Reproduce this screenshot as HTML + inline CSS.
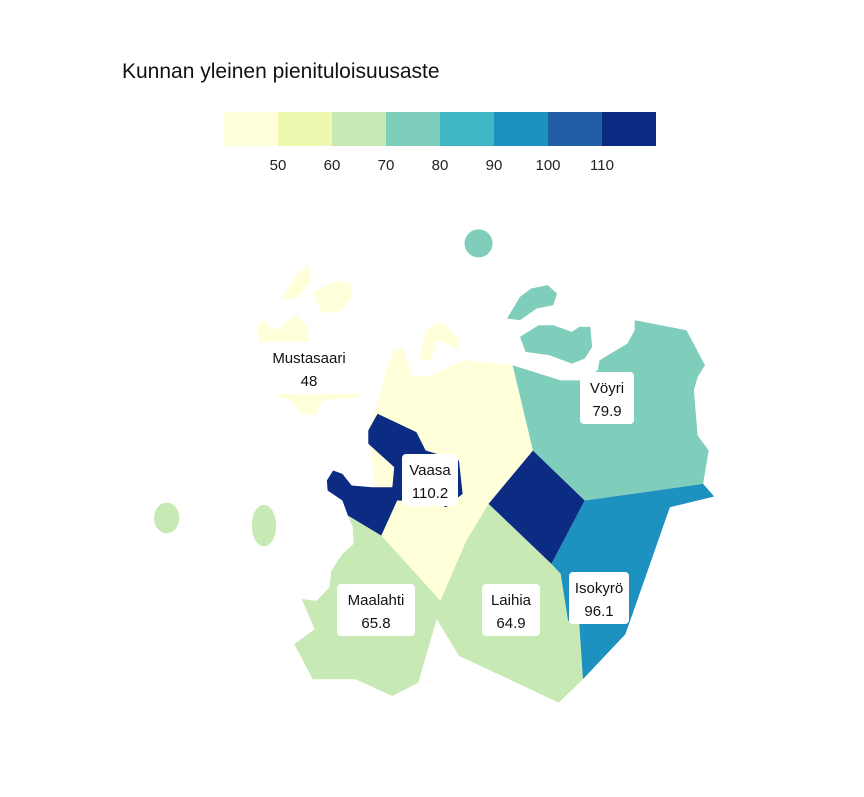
<!DOCTYPE html>
<html><head><meta charset="utf-8"><style>
body{margin:0;background:#fff;font-family:"Liberation Sans",sans-serif}
</style></head><body>
<svg width="864" height="792" viewBox="0 0 864 792" xmlns="http://www.w3.org/2000/svg">
<text x="122" y="78" font-size="21" fill="#111">Kunnan yleinen pienituloisuusaste</text>
<g id="legend"></g>
<g transform="translate(150,220) scale(0.37,0.334)">
 <g fill="#ffffd9">
  <polygon points="620,530 640,440 660,385 685,385 710,470 760,465 850,420 980,435 1035,690 915,850 785,1140 625,945 590,630"/>
  <polygon points="355,235 400,160 430,130 435,185 400,230 370,240"/>
  <polygon points="440,215 500,185 540,185 548,225 520,270 480,280 460,270"/>
  <polygon points="290,320 300,300 340,330 395,285 425,320 430,360 560,450 565,530 465,540 450,585 410,580 380,540 330,520 300,420"/>
  <polygon points="730,400 745,330 780,305 805,320 835,360 830,390 805,370 775,360 760,420 735,420"/>
 </g>
 <g fill="#0c2c84">
  <polygon points="615,580 720,635 745,690 835,720 845,820 800,860 770,845 668,840 625,945 535,885 520,840 480,810 478,780 495,750 520,760 545,795 600,800 655,800 660,740 590,670 590,630"/>
  <polygon points="1035,690 1175,840 1085,1030 915,850"/>
 </g>
 <g fill="#7fcdbb">
  <polygon points="980,435 1110,480 1165,480 1210,450 1215,420 1290,370 1310,330 1310,300 1450,330 1500,435 1480,470 1470,510 1480,645 1510,690 1495,790 1175,840 1035,690"/>
  <polygon points="965,295 1000,230 1030,205 1075,195 1100,220 1090,255 1045,265 1000,300"/>
  <polygon points="1000,350 1050,315 1090,315 1140,335 1160,320 1190,320 1195,380 1175,415 1140,430 1080,405 1015,395"/>
  <ellipse cx="888" cy="70" rx="38" ry="42"/>
 </g>
 <polygon fill="#1d91c0" points="1175,840 1495,790 1525,828 1405,860 1285,1240 1170,1375 1160,1210 1120,1200 1110,1060 1085,1030"/>
 <polygon fill="#c7e9b4" points="915,850 1085,1030 1110,1060 1130,1200 1160,1210 1170,1375 1105,1445 835,1305 775,1195 785,1140 855,960"/>
 <g fill="#c7e9b4">
  <polygon points="535,885 625,945 785,1140 775,1195 725,1385 655,1425 555,1375 440,1375 390,1270 445,1225 410,1135 450,1140 485,1100 490,1050 520,1000 550,970 548,920"/>
  <ellipse cx="45" cy="892" rx="34" ry="46"/>
  <ellipse cx="308" cy="915" rx="33" ry="62"/>
 </g>
</g>
<g id="labels" font-size="15" fill="#111" text-anchor="middle"></g>
<script>
const bins=["","50","60","70","80","90","100","110"];
const colors=["#ffffd9","#edf8b1","#c7e9b4","#7fcdbb","#41b6c4","#1d91c0","#225ea8","#0c2c84"];
const names=["Mustasaari","Vöyri","Vaasa","Maalahti","Laihia","Isokyrö"];
const values=[48,79.9,110.2,65.8,64.9,96.1];
const NS="http://www.w3.org/2000/svg";
const lg=document.getElementById('legend');
colors.forEach((c,i)=>{
 const r=document.createElementNS(NS,'rect');
 r.setAttribute('x',224+i*54);r.setAttribute('y',112);r.setAttribute('width',54);r.setAttribute('height',34);r.setAttribute('fill',c);
 
 
 lg.appendChild(r);
 if(bins[i]){
  const t=document.createElementNS(NS,'text');
  t.setAttribute('x',224+i*54);t.setAttribute('y',170);t.setAttribute('font-size','15');t.setAttribute('text-anchor','middle');t.setAttribute('fill','#222');
  t.textContent=bins[i];
  
  
  lg.appendChild(t);
 }
});
const pos=[[309,368,100],[607,398,54],[430,480,56],[376,610,78],[511,610,58],[599,598,60]];
const lb=document.getElementById('labels');
names.forEach((n,i)=>{
 const [cx,cy,w]=pos[i];
 const g=document.createElementNS(NS,'g');
 
 
 const r=document.createElementNS(NS,'rect');
 r.setAttribute('x',cx-w/2);r.setAttribute('y',cy-26);r.setAttribute('width',w);r.setAttribute('height',52);r.setAttribute('rx',4);r.setAttribute('fill','#fff');
 g.appendChild(r);
 const t1=document.createElementNS(NS,'text');t1.setAttribute('x',cx);t1.setAttribute('y',cy-5);t1.textContent=n;g.appendChild(t1);
 const t2=document.createElementNS(NS,'text');t2.setAttribute('x',cx);t2.setAttribute('y',cy+18);t2.textContent=values[i];g.appendChild(t2);
 lb.appendChild(g);
});
</script>
</svg>
</body></html>
